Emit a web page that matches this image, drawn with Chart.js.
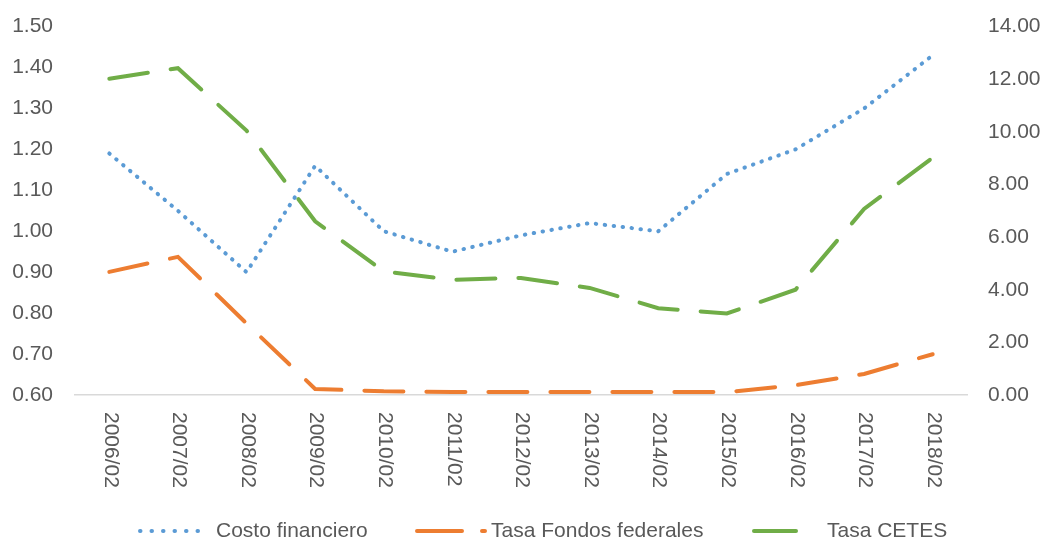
<!DOCTYPE html>
<html>
<head>
<meta charset="utf-8">
<script src="https://cdn.jsdelivr.net/npm/chart.js@4.4.1/dist/chart.umd.min.js"></script>
<style>
  html, body { margin: 0; padding: 0; background: #ffffff; }
  canvas { display: block; }
</style>
</head>
<body>
<canvas id="chart" width="1050" height="540"></canvas>
<script>
// Periods (February of each year)
const categories = ['2006/02', '2007/02', '2008/02', '2009/02', '2010/02', '2011/02', '2012/02',
                    '2013/02', '2014/02', '2015/02', '2016/02', '2017/02', '2018/02'];

// Left axis series
const costoFinanciero = [1.19, 1.05, 0.90, 1.16, 1.00, 0.95, 0.99, 1.02, 1.00, 1.14, 1.20, 1.30, 1.43];

// Right axis series (percent)
const tasaFondosFederales = [4.68, 5.25, 2.72, 0.23, 0.14, 0.11, 0.11, 0.11, 0.11, 0.11, 0.37, 0.80, 1.55];
const tasaCetes = [12.02, 12.42, 10.05, 6.60, 4.70, 4.38, 4.45, 4.07, 3.30, 3.10, 4.00, 7.07, 9.02];

// Axis ranges
const leftAxis = { min: 0.6, max: 1.5, step: 0.1 };
const rightAxis = { min: 0, max: 14, step: 2 };

const FONT = '"Liberation Sans", Arial, sans-serif';
const TEXT_COLOR = '#595959';

// Vertical category labels, reading top to bottom
const xLabels = {
  id: 'xLabels',
  afterDraw(chart) {
    const { ctx } = chart;
    const x = chart.scales.x;
    ctx.save();
    ctx.font = '21px ' + FONT;
    ctx.fillStyle = TEXT_COLOR;
    ctx.textAlign = 'left';
    ctx.textBaseline = 'middle';
    categories.forEach((lab, i) => {
      const px = x.getPixelForValue(i);
      ctx.save();
      ctx.translate(px + 1, 412);
      ctx.rotate(Math.PI / 2);
      ctx.fillText(lab, 0, 0);
      ctx.restore();
    });
    ctx.restore();
  }
};

// Legend row under the chart
const legendRow = {
  id: 'legendRow',
  afterDraw(chart) {
    const { ctx } = chart;
    const items = [
      { from: 140, to: 200, dash: [0.5, 11], textX: 216 },
      { from: 417, to: 485, dash: [45, 20], textX: 491 },
      { from: 754, to: 796, dash: [], textX: 827 }
    ];
    const y = 531;
    ctx.save();
    chart.data.datasets.forEach((ds, i) => {
      const it = items[i];
      ctx.beginPath();
      ctx.setLineDash(it.dash);
      ctx.lineCap = 'round';
      ctx.lineWidth = ds.borderWidth;
      ctx.strokeStyle = ds.borderColor;
      ctx.moveTo(it.from, y);
      ctx.lineTo(it.to, y);
      ctx.stroke();
      ctx.setLineDash([]);
      ctx.font = '21px ' + FONT;
      ctx.fillStyle = TEXT_COLOR;
      ctx.textAlign = 'left';
      ctx.textBaseline = 'middle';
      ctx.fillText(ds.label, it.textX, y);
    });
    ctx.restore();
  }
};

new Chart(document.getElementById('chart'), {
  type: 'line',
  data: {
    labels: categories,
    datasets: [
      {
        label: 'Costo financiero',
        data: costoFinanciero,
        yAxisID: 'y',
        borderColor: '#5B9BD5',
        borderWidth: 4,
        borderDash: [0.5, 8.5],
        borderCapStyle: 'round',
        pointRadius: 0,
        tension: 0,
        fill: false
      },
      {
        label: 'Tasa Fondos federales',
        data: tasaFondosFederales,
        yAxisID: 'y1',
        borderColor: '#ED7D31',
        borderWidth: 4,
        borderDash: [39, 23],
        borderCapStyle: 'round',
        pointRadius: 0,
        tension: 0,
        fill: false
      },
      {
        label: 'Tasa CETES',
        data: tasaCetes,
        yAxisID: 'y1',
        borderColor: '#70AD47',
        borderWidth: 4,
        borderDash: [39, 23],
        borderCapStyle: 'round',
        pointRadius: 0,
        tension: 0,
        fill: false
      }
    ]
  },
  options: {
    responsive: false,
    animation: false,
    devicePixelRatio: 1,
    layout: { padding: { top: 17, left: 0, right: 0, bottom: 0 } },
    plugins: {
      legend: { display: false },
      tooltip: { enabled: false }
    },
    scales: {
      x: {
        type: 'category',
        offset: true,
        grid: { display: false },
        border: { display: true, color: '#d9d9d9', width: 1.5 },
        ticks: { display: false },
        afterFit(scale) { scale.height = 145; }
      },
      y: {
        position: 'left',
        min: leftAxis.min,
        max: leftAxis.max,
        grid: { display: false },
        border: { display: false },
        ticks: {
          stepSize: leftAxis.step,
          color: TEXT_COLOR,
          font: { family: FONT, size: 21 },
          padding: 14,
          callback: v => Number(v).toFixed(2)
        },
        afterFit(scale) { scale.width = 75; }
      },
      y1: {
        position: 'right',
        min: rightAxis.min,
        max: rightAxis.max,
        grid: { display: false },
        border: { display: false },
        ticks: {
          stepSize: rightAxis.step,
          color: TEXT_COLOR,
          font: { family: FONT, size: 21 },
          padding: 13,
          callback: v => Number(v).toFixed(2)
        },
        afterFit(scale) { scale.width = 83; }
      }
    }
  },
  plugins: [xLabels, legendRow]
});
</script>
</body>
</html>
